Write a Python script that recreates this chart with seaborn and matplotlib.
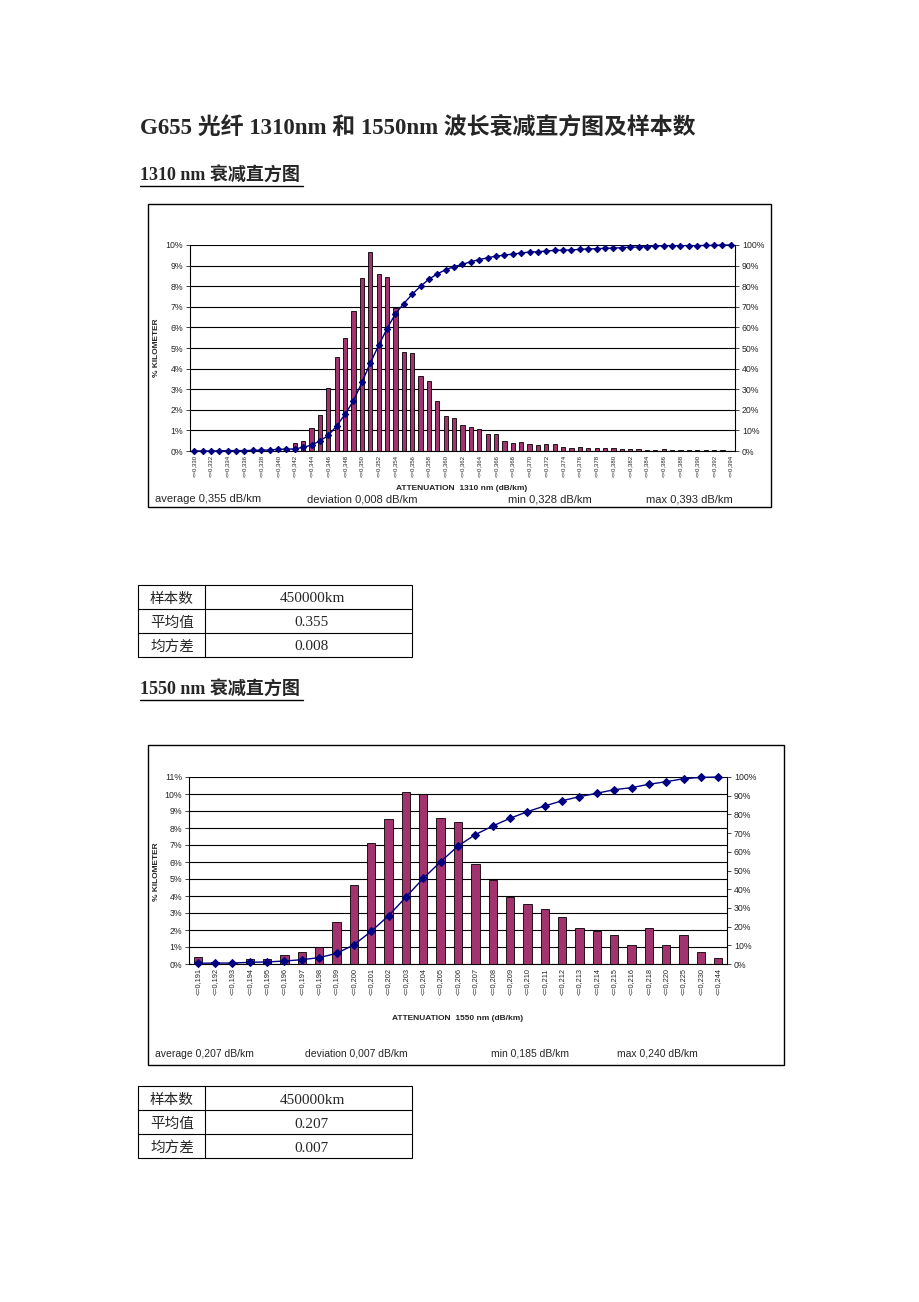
import numpy as np
import pandas as pd
import matplotlib
matplotlib.use('Agg')
import matplotlib.pyplot as plt
import seaborn as sns
from matplotlib.patches import Rectangle
from matplotlib.lines import Line2D

# ---- data: 1310 nm ----
att_1310 = ['0,330', '0,331', '0,332', '0,333', '0,334', '0,335', '0,336', '0,337', '0,338', '0,339',
            '0,340', '0,341', '0,342', '0,343', '0,344', '0,345', '0,346', '0,347', '0,348', '0,349',
            '0,350', '0,351', '0,352', '0,353', '0,354', '0,355', '0,356', '0,357', '0,358', '0,359',
            '0,360', '0,361', '0,362', '0,363', '0,364', '0,365', '0,366', '0,367', '0,368', '0,369',
            '0,370', '0,371', '0,372', '0,373', '0,374', '0,375', '0,376', '0,377', '0,378', '0,379',
            '0,380', '0,381', '0,382', '0,383', '0,384', '0,385', '0,386', '0,387', '0,388', '0,389',
            '0,390', '0,391', '0,392', '0,393', '0,394']
pct_1310 = [0.01, 0.01, 0.01, 0.02, 0.02, 0.02, 0.03, 0.04, 0.05, 0.06,
            0.08, 0.10, 0.37, 0.47, 1.12, 1.74, 3.05, 4.58, 5.49, 6.82,
            8.38, 9.66, 8.60, 8.43, 6.95, 4.82, 4.77, 3.62, 3.41, 2.44,
            1.69, 1.59, 1.28, 1.18, 1.07, 0.83, 0.83, 0.49, 0.37, 0.44,
            0.32, 0.28, 0.32, 0.32, 0.18, 0.13, 0.18, 0.15, 0.16, 0.16,
            0.16, 0.11, 0.11, 0.08, 0.07, 0.07, 0.10, 0.06, 0.05, 0.05,
            0.03, 0.03, 0.03, 0.07, 0.02]
cum_1310 = [0, 0, 0, 0.1, 0.2, 0.2, 0.2, 0.3, 0.4, 0.5,
            0.8, 0.9, 1.0, 1.8, 2.9, 4.9, 7.6, 12.2, 17.9, 24.4,
            33.3, 42.7, 51.3, 59.4, 66.6, 71.6, 76.1, 80.0, 83.4, 86.0,
            88.0, 89.5, 90.6, 91.9, 92.9, 93.8, 94.6, 95.1, 95.6, 96.1,
            96.6, 96.7, 97.1, 97.4, 97.5, 97.6, 97.9, 98.1, 98.2, 98.4,
            98.5, 98.7, 99.0, 99.0, 99.2, 99.4, 99.7, 99.7, 99.7, 99.7,
            99.7, 99.8, 99.8, 100, 100]
stats_1310 = ['average 0,355 dB/km', 'deviation 0,008 dB/km', 'min 0,328 dB/km', 'max 0,393 dB/km']
table_1310 = [('样本数', '450000km'), ('平均值', '0.355'), ('均方差', '0.008')]

# ---- data: 1550 nm ----
att_1550 = ['0,191', '0,192', '0,193', '0,194', '0,195', '0,196', '0,197', '0,198', '0,199', '0,200',
            '0,201', '0,202', '0,203', '0,204', '0,205', '0,206', '0,207', '0,208', '0,209', '0,210',
            '0,211', '0,212', '0,213', '0,214', '0,215', '0,216', '0,218', '0,220', '0,225', '0,230',
            '0,244']
pct_1550 = [0.39, 0.10, 0.05, 0.31, 0.31, 0.51, 0.71, 0.98, 2.47, 4.67,
            7.14, 8.51, 10.12, 9.98, 8.57, 8.35, 5.88, 4.96, 3.94, 3.55,
            3.22, 2.76, 2.12, 1.96, 1.73, 1.14, 2.12, 1.10, 1.73, 0.69,
            0.37]
cum_1550 = [0.4, 0.5, 0.5, 0.9, 1.1, 1.6, 2.3, 3.4, 5.7, 10.2,
            17.5, 25.8, 35.8, 45.8, 54.7, 63.1, 69.2, 73.8, 77.9, 81.5,
            84.5, 87.3, 89.5, 91.3, 93.2, 94.3, 96.1, 97.5, 99.1, 99.8,
            100]
stats_1550 = ['average 0,207 dB/km', 'deviation 0,007 dB/km', 'min 0,185 dB/km', 'max 0,240 dB/km']
table_1550 = [('样本数', '450000km'), ('平均值', '0.207'), ('均方差', '0.007')]

W, H = 920, 1302
BAR = '#a3336e'
NAVY = '#000080'
SANS = ['Liberation Sans', 'DejaVu Sans']
SERIF = ['Liberation Serif', 'Noto Sans CJK SC']

sns.set_theme(style='white')
plt.rcParams['font.family'] = SANS

fig = plt.figure(figsize=(W / 100, H / 100), dpi=100)
fig.patch.set_facecolor('white')


def fx(x):
    return x / W


def fy(y):
    return 1 - y / H


def box(x0, y0, x1, y1, lw=1.0):
    fig.add_artist(Rectangle((fx(x0), fy(y1)), fx(x1) - fx(x0), fy(y0) - fy(y1),
                             transform=fig.transFigure, fill=False, edgecolor='black', lw=lw))


def hline(x0, x1, y, lw=0.8):
    fig.add_artist(Line2D([fx(x0), fx(x1)], [fy(y), fy(y)], transform=fig.transFigure, color='black', lw=lw))


def vline(x, y0, y1, lw=0.8):
    fig.add_artist(Line2D([fx(x), fx(x)], [fy(y0), fy(y1)], transform=fig.transFigure, color='black', lw=lw))


def draw_hist(rect, cats, pct, cum, ymax, step, tick_fs, msize, bar_w):
    ax = fig.add_axes([fx(rect[0]), fy(rect[3]), fx(rect[2]) - fx(rect[0]), fy(rect[1]) - fy(rect[3])])
    df = pd.DataFrame({'cat': ['<=' + c for c in cats], 'pct': pct, 'cum': cum})
    sns.barplot(data=df, x='cat', y='pct', ax=ax, color=BAR, saturation=1,
                edgecolor='black', linewidth=0.6, width=bar_w, zorder=3)
    ax2 = ax.twinx()
    sns.pointplot(data=df, x='cat', y='cum', ax=ax2, color=NAVY, markers='D',
                  markersize=msize, linewidth=1.0, errorbar=None)
    for ln in ax2.lines:
        ln.set_clip_on(False)
    n = len(cats)
    ax.set_xlim(-0.5, n - 0.5)
    ax.set_ylim(0, ymax)
    ax2.set_ylim(0, 100)
    ax.set_yticks(range(0, ymax + 1))
    ax.set_yticklabels([f'{v}%' for v in range(0, ymax + 1)], fontsize=6.3)
    ax2.set_yticks(range(0, 101, 10))
    ax2.set_yticklabels([f'{v}%' for v in range(0, 101, 10)], fontsize=6.3)
    pos = list(range(0, n, step))
    ax.set_xticks(pos)
    ax.set_xticklabels([df['cat'][i] for i in pos], rotation=90, fontsize=tick_fs)
    ax.set_xticks(np.arange(-0.5, n, 1.0), minor=True)
    ax.tick_params(axis='x', which='major', length=0, pad=3)
    ax.tick_params(axis='x', which='minor', length=3, direction='inout', width=0.6)
    ax.tick_params(axis='y', length=3, width=0.6, direction='out', pad=2, left=True)
    ax2.tick_params(axis='y', length=3, width=0.6, direction='out', pad=2, right=True)
    ax.grid(axis='y', color='black', lw=0.8)
    ax.set_axisbelow(True)
    ax.set_xlabel('')
    ax.set_ylabel('')
    ax2.set_ylabel('')
    for s in ['top', 'right']:
        ax.spines[s].set_visible(False)
    for s in ['top', 'left', 'bottom']:
        ax2.spines[s].set_visible(False)
    for s in ['left', 'bottom']:
        ax.spines[s].set_color('black')
        ax.spines[s].set_linewidth(0.8)
    ax2.spines['right'].set_color('black')
    ax2.spines['right'].set_linewidth(0.8)
    ax.patch.set_alpha(0)
    return ax, ax2


def draw_table(y0, rows):
    box(138, y0, 412, y0 + 72, lw=0.8)
    vline(205, y0, y0 + 72)
    for k in range(1, 3):
        hline(138, 412, y0 + 24 * k)
    for k, (a, b) in enumerate(rows):
        yc = y0 + 14 + 24 * k
        fig.text(fx(172), fy(yc), a, fontsize=10.5, family=['Noto Sans CJK SC', 'DejaVu Sans'],
                 va='center', ha='center')
        fig.text(fx(312), fy(yc), b, fontsize=11, family=SERIF, va='center', ha='center')


# ---- header ----
fig.text(fx(140), fy(127), 'G655 光纤 1310nm 和 1550nm 波长衰减直方图及样本数',
         fontsize=16.5, weight='bold', family=SERIF, va='center', ha='left')
fig.text(fx(140), fy(176), '1310 nm 衰减直方图', fontsize=13, weight='bold',
         family=SERIF, va='center', ha='left')
hline(140, 303, 186, lw=1.0)

# ---- chart 1310 ----
box(148, 204, 771, 507)
draw_hist((190, 245, 735, 451), att_1310, pct_1310, cum_1310, 10, 2, 4.3, 3.2, 0.5)
fig.text(fx(157), fy(348), '% KILOMETER', rotation=90, fontsize=6, weight='bold',
         va='center', ha='center')
fig.text(fx(462), fy(488), 'ATTENUATION  1310 nm (dB/km)', fontsize=6, weight='bold',
         va='center', ha='center')
for s, x in zip(stats_1310, [155, 307, 508, 646]):
    fig.text(fx(x), fy(499), s, fontsize=8, va='center', ha='left')

draw_table(585, table_1310)

fig.text(fx(140), fy(690), '1550 nm 衰减直方图', fontsize=13, weight='bold',
         family=SERIF, va='center', ha='left')
hline(140, 303, 700, lw=1.0)

# ---- chart 1550 ----
box(148, 745, 784, 1065)
draw_hist((189, 777, 727, 964), att_1550, pct_1550, cum_1550, 11, 1, 5.3, 4.0, 0.48)
fig.text(fx(157), fy(872), '% KILOMETER', rotation=90, fontsize=6, weight='bold',
         va='center', ha='center')
fig.text(fx(458), fy(1018), 'ATTENUATION  1550 nm (dB/km)', fontsize=6, weight='bold',
         va='center', ha='center')
for s, x in zip(stats_1550, [155, 305, 491, 617]):
    fig.text(fx(x), fy(1054), s, fontsize=7.5, va='center', ha='left')

draw_table(1086, table_1550)

fig.savefig('out.png', dpi=100, facecolor='white')
